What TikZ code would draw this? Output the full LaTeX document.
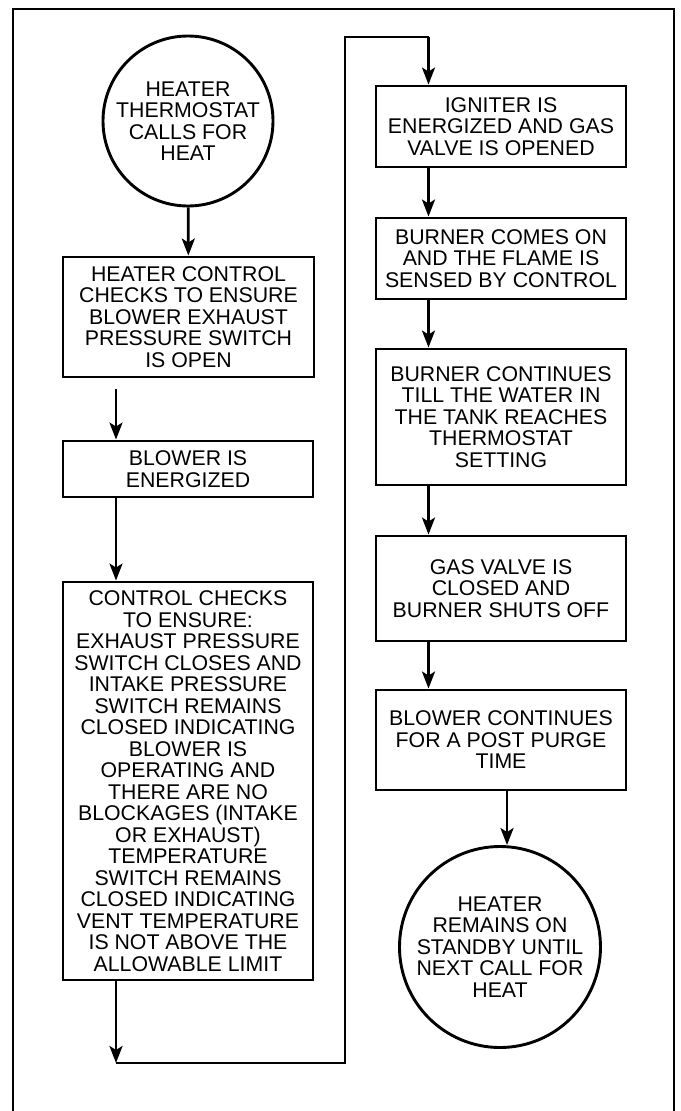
\documentclass[tikz,border=0pt]{standalone}
\usepackage{fontspec}
\setmainfont{Liberation Sans}
\usetikzlibrary{arrows.meta}
\tikzset{
  flowtext/.style={font=\fontsize{21.3}{21.5}\selectfont,align=center,text=black},
  stepbox/.style={flowtext,draw=black,line width=2.9pt,inner sep=0pt,minimum width=250pt},
  term/.style={flowtext,circle,draw=black,line width=2.9pt,inner sep=0pt},
  frame/.style={draw=black,line width=2.7pt},
  link/.style={draw=black,line width=2.7pt},
  arr/.style={-{Stealth[length=17pt,width=13pt,inset=4pt]},draw=black,line width=2.7pt}
}
\begin{document}
\begin{tikzpicture}[x=1pt,y=-1pt]
\path[use as bounding box] (0,0) rectangle (680,1111);
\draw[frame] (13,9) rectangle (674,1130);
% left column
\node[term,minimum size=170pt] (start) at (188,121) {HEATER\\THERMOSTAT\\CALLS FOR\\HEAT};
\node[stepbox,minimum width=251pt,minimum height=120pt] (check) at (188.5,317) {HEATER CONTROL\\CHECKS TO ENSURE\\BLOWER EXHAUST\\PRESSURE SWITCH\\IS OPEN};
\node[stepbox,minimum height=56pt] (blower) at (188,469) {BLOWER IS\\ENERGIZED};
\node[stepbox,minimum height=398pt] (ensure) at (188,781) {CONTROL CHECKS\\TO ENSURE:\\EXHAUST PRESSURE\\SWITCH CLOSES AND\\INTAKE PRESSURE\\SWITCH REMAINS\\CLOSED INDICATING\\BLOWER IS\\OPERATING AND\\THERE ARE NO\\BLOCKAGES (INTAKE\\OR EXHAUST)\\TEMPERATURE\\SWITCH REMAINS\\CLOSED INDICATING\\VENT TEMPERATURE\\IS NOT ABOVE THE\\ALLOWABLE LIMIT};
% right column
\node[stepbox,minimum height=81pt] (igniter) at (501,126.5) {IGNITER IS\\ENERGIZED AND GAS\\VALVE IS OPENED};
\node[stepbox,minimum height=81pt] (burner) at (501,258.5) {BURNER COMES ON\\AND THE FLAME IS\\SENSED BY CONTROL};
\node[stepbox,minimum height=136pt] (till) at (501,417) {BURNER CONTINUES\\TILL THE WATER IN\\THE TANK REACHES\\THERMOSTAT\\SETTING};
\node[stepbox,minimum height=105pt] (gasoff) at (501,588.5) {GAS VALVE IS\\CLOSED AND\\BURNER SHUTS OFF};
\node[stepbox,minimum height=100pt] (purge) at (501,740) {BLOWER CONTINUES\\FOR A POST PURGE\\TIME};
\node[term,minimum size=201pt] (standby) at (500,947) {HEATER\\REMAINS ON\\STANDBY UNTIL\\NEXT CALL FOR\\HEAT};
% connectors
\coordinate (lx) at (116,0); \coordinate (rx) at (428.5,0); \coordinate (sx) at (507,0);
\coordinate (c1) at (116,1063); \coordinate (c2) at (345,1063); \coordinate (c3) at (345,37); \coordinate (c4) at (428.5,37);
\draw[arr] (start) -- (check);
\draw[arr,shorten <=11pt] (check.south -| lx) -- (blower.north -| lx);
\draw[arr] (blower.south -| lx) -- (ensure.north -| lx);
\draw[arr] (ensure.south -| lx) -- (c1);
\draw[link] (c1) -- (c2) -- (c3) -- (c4);
\draw[arr] (c4) -- (igniter.north -| c4);
\draw[arr] (igniter.south -| rx) -- (burner.north -| rx);
\draw[arr] (burner.south -| rx) -- (till.north -| rx);
\draw[arr] (till.south -| rx) -- (gasoff.north -| rx);
\draw[arr] (gasoff.south -| rx) -- (purge.north -| rx);
\draw[arr] (purge.south -| sx) -- (standby.north -| sx);
\end{tikzpicture}
\end{document}
